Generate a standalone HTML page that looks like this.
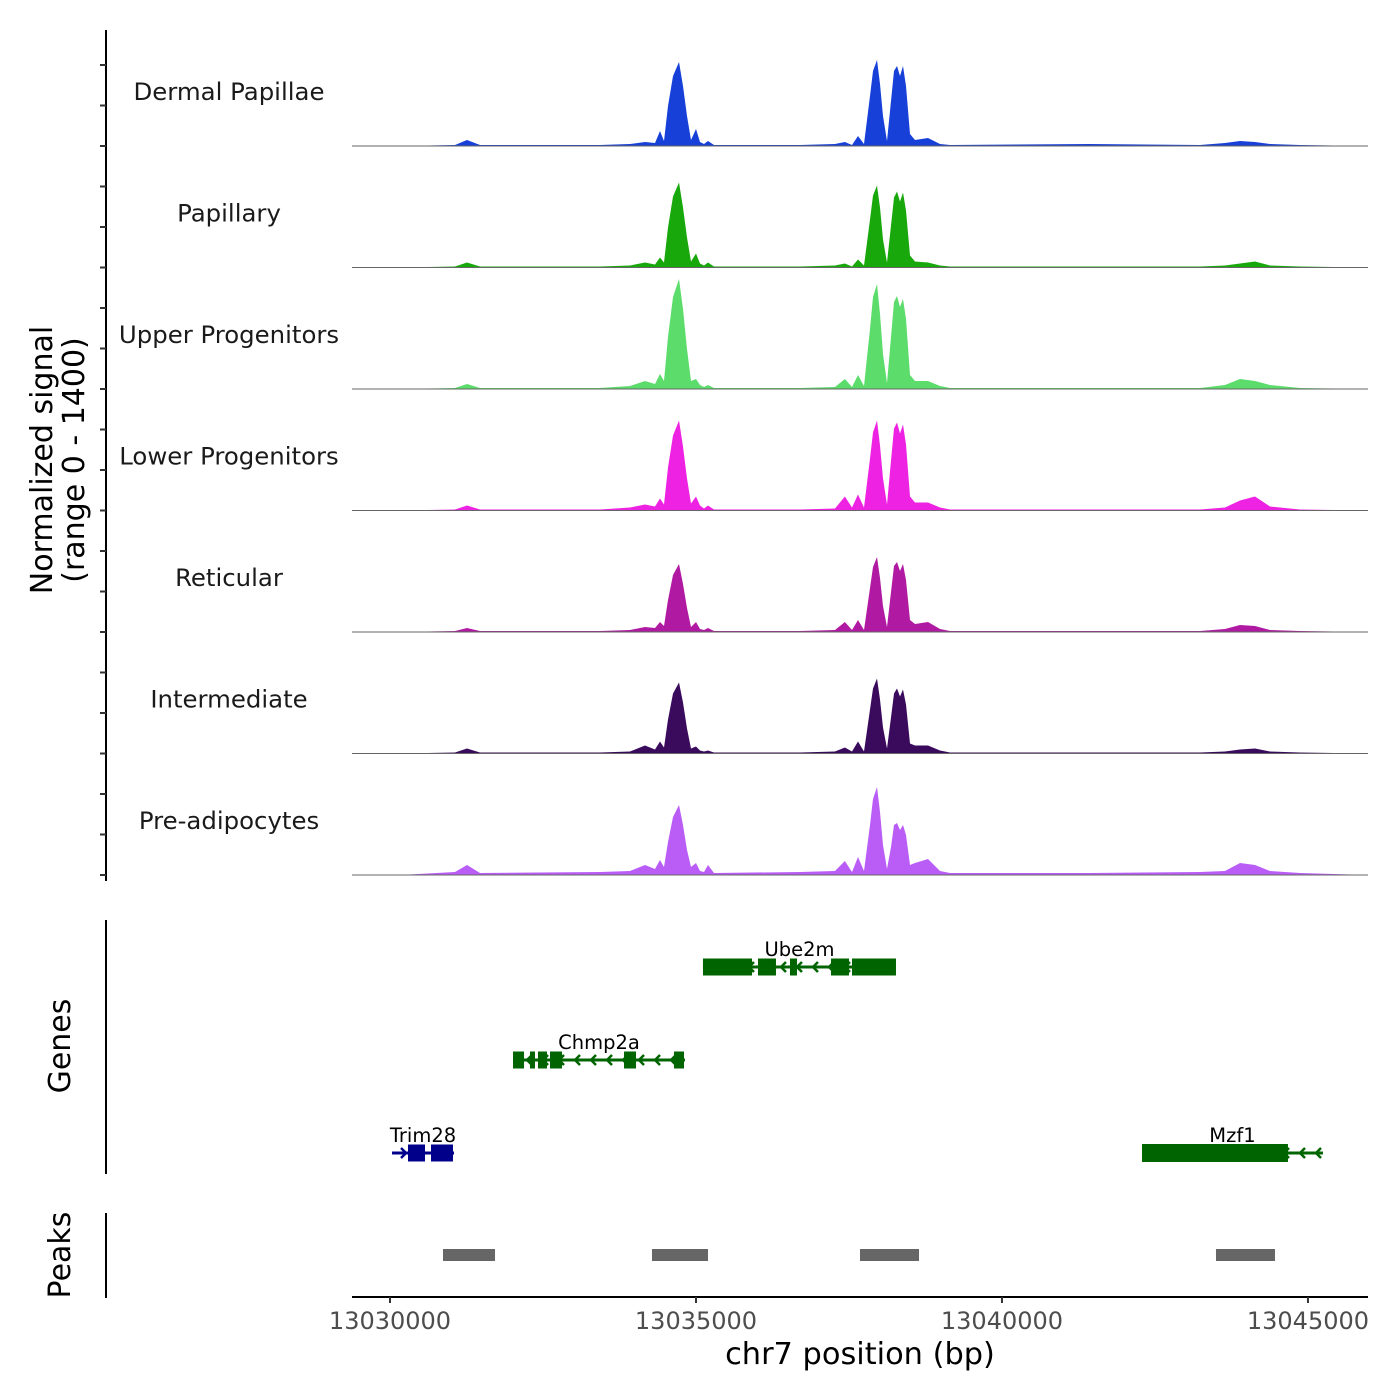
<!DOCTYPE html>
<html><head><meta charset="utf-8">
<style>
html,body{margin:0;padding:0;background:#fff;}
svg{display:block;font-family:"DejaVu Sans","Liberation Sans",sans-serif;}
</style></head>
<body>
<svg id="chart" width="1400" height="1400" viewBox="0 0 1400 1400" xmlns="http://www.w3.org/2000/svg"></svg>
<script>
const trackNames = ["Dermal Papillae","Papillary","Upper Progenitors","Lower Progenitors","Reticular","Intermediate","Pre-adipocytes"];
const trackColors = ["#1640d8","#18a80c","#5cdc6a","#ee22e2","#b01aa2","#3a0a5c","#ba5cf6"];
const positions = [13029379,13030163,13031062,13031258,13031471,13033431,13033922,13034167,13034330,13034412,13034477,13034543,13034624,13034722,13034788,13034853,13034918,13035000,13035065,13035131,13035196,13035294,13036699,13037271,13037434,13037549,13037647,13037745,13037843,13037892,13037958,13038007,13038056,13038121,13038187,13038236,13038285,13038333,13038382,13038431,13038497,13038578,13038791,13038987,13039150,13041438,13043235,13043644,13043889,13044134,13044379,13044869,13045980];
const sigDermal = [0,0,1,6,1,1,2,4,3,15,5,40,70,84,60,30,6,17,4,2,5,1,1,2,4,1,10,2,50,75,86,62,30,5,45,75,80,70,80,60,12,6,8,2,1,2,1,3,5,4,2,1,0];
const sigPapillary = [0,0,1,5,1,1,2,5,3,10,5,40,71,85,60,30,6,14,4,2,5,1,1,2,4,1,8,2,48,72,82,60,28,5,42,70,76,66,75,57,12,6,5,2,1,1,1,2,4,6,2,1,0];
const sigUpper = [0,0,1,5,1,1,3,8,5,15,8,52,92,110,80,40,8,10,4,2,4,1,1,2,10,2,14,3,60,92,105,75,35,6,52,87,93,82,90,70,14,8,8,3,1,1,1,4,10,8,4,1,0];
const sigLower = [0,0,1,5,1,1,3,6,4,12,6,43,75,90,64,32,7,14,5,2,5,1,1,2,14,3,16,3,52,78,90,65,32,6,50,82,88,77,86,66,14,8,8,3,1,1,1,3,10,14,4,1,0];
const sigReticular = [0,0,1,4,1,1,2,5,4,10,6,32,57,68,48,24,5,10,3,2,4,1,1,2,10,2,12,2,44,65,75,54,26,5,40,66,70,61,68,52,12,8,10,3,1,1,1,3,7,6,2,1,0];
const sigIntermediate = [0,0,1,5,1,1,2,8,4,12,6,34,60,71,51,25,5,7,3,2,3,1,1,2,6,2,12,2,44,65,75,54,26,5,36,60,65,57,64,49,10,8,8,3,1,1,1,2,4,5,2,1,0];
const sigPreadipo = [0,0,3,10,2,3,4,10,6,15,8,33,58,70,50,25,8,12,4,3,10,2,3,4,14,3,18,4,50,76,88,63,30,6,28,50,52,45,50,40,10,12,16,4,2,2,3,4,12,10,4,2,0];
const signals = [sigDermal,sigPapillary,sigUpper,sigLower,sigReticular,sigIntermediate,sigPreadipo];
const xTicks = [13030000,13035000,13040000,13045000];
const geneNames = ["Ube2m","Chmp2a","Trim28","Mzf1"];
const geneStarts = [13035114,13032010,13030033,13042288];
const geneEnds = [13038268,13034820,13031046,13045245];
const geneRows = [0,1,2,2];
const geneStrand = ["-","-","+","-"];
const geneExons = [
 [[13035114,13035915],[13036013,13036307],[13036536,13036650],[13037206,13037500],[13037549,13038268]],
 [[13032010,13032190],[13032288,13032369],[13032418,13032565],[13032614,13032810],[13033824,13034020],[13034641,13034804]],
 [[13030294,13030572],[13030670,13031029]],
 [[13042288,13044673]]
];
const peakStarts = [13030866,13034281,13037680,13043497];
const peakEnds = [13031716,13035196,13038644,13044461];

const svg = document.getElementById('chart');
const NS = "http://www.w3.org/2000/svg";
function mk(tag, attrs, parent){const e=document.createElementNS(NS,tag);for(const k in attrs)e.setAttribute(k,attrs[k]);(parent||svg).appendChild(e);return e;}
const xMin=13029379, xMax=13045981, pxL=352, pxR=1368;
const xs = v => pxL + (v-xMin)/(xMax-xMin)*(pxR-pxL);
const baselines = [146,267.5,389,510.5,632,753.5,875];
const yScale = (v, base) => base - v;

let e;
e = mk('line',{x1:106,y1:30,x2:106,y2:881,stroke:'#000','stroke-width':2});
 
for(let t=0;t<7;t++){
  for(let k=0;k<3;k++){
    const y = baselines[t]-k*40.5;
    e = mk('line',{x1:100,y1:y,x2:106,y2:y,stroke:'#333','stroke-width':2});
     
  }
}
e = mk('text',{x:0,y:0,'font-size':30,'text-anchor':'middle',fill:'#000',transform:'translate(52,460) rotate(-90)'});
e.textContent='Normalized signal';
 
e = mk('text',{x:0,y:0,'font-size':30,'text-anchor':'middle',fill:'#000',transform:'translate(84,460) rotate(-90)'});
e.textContent='(range 0 - 1400)';
 

for(let t=0;t<7;t++){
  const base = baselines[t];
  const vals = signals[t];
  let d = 'M'+xs(positions[0])+','+base;
  for(let i=0;i<positions.length;i++) d += ' L'+xs(positions[i]).toFixed(1)+','+yScale(vals[i],base).toFixed(1);
  d += ' L'+xs(positions[positions.length-1])+','+base+' Z';
  e = mk('path',{d:d,fill:trackColors[t],stroke:'none'});
   
  e = mk('line',{x1:pxL,y1:base,x2:pxR,y2:base,stroke:'#666','stroke-width':1});
   
  e = mk('text',{x:229,y:base-46,'font-size':24.4,'text-anchor':'middle',fill:'#1a1a1a'});
  e.textContent = trackNames[t];
   
}

e = mk('line',{x1:106,y1:920,x2:106,y2:1174,stroke:'#000','stroke-width':2});
 
e = mk('text',{x:0,y:0,'font-size':30,'text-anchor':'middle',fill:'#000',transform:'translate(70,1046) rotate(-90)'});
e.textContent='Genes';
 
const rowY = [967,1060,1153];
for(let g=0;g<geneNames.length;g++){
  const y=rowY[geneRows[g]], col = geneStrand[g]==='+'?'#00008b':'#006400';
  const x1=xs(geneStarts[g]), x2=xs(geneEnds[g]);
  const grp = mk('g',{});
   
  mk('line',{x1:x1,y1:y,x2:x2,y2:y,stroke:col,'stroke-width':3},grp);
  for(let ax=x1+14; ax<x2-6; ax+=16){
    const dir = geneStrand[g]==='+'?-1:1;
    mk('polyline',{points:(ax+dir*5)+','+(y-5)+' '+ax+','+y+' '+(ax+dir*5)+','+(y+5),fill:'none',stroke:col,'stroke-width':2.5},grp);
  }
  const h = g===3?18:17;
  for(const ex of geneExons[g]){
    mk('rect',{x:xs(ex[0]),y:y-h/2,width:Math.max(3,xs(ex[1])-xs(ex[0])),height:h,fill:col},grp);
  }
  const lbl = mk('text',{x:(x1+x2)/2,y:y-11,'font-size':19.5,'text-anchor':'middle',fill:'#000'},grp);
  lbl.textContent=geneNames[g];
}

e = mk('line',{x1:106,y1:1213,x2:106,y2:1298,stroke:'#000','stroke-width':2});
 
e = mk('text',{x:0,y:0,'font-size':30,'text-anchor':'middle',fill:'#000',transform:'translate(70,1255) rotate(-90)'});
e.textContent='Peaks';
 
for(let p=0;p<peakStarts.length;p++){
  e = mk('rect',{x:xs(peakStarts[p]),y:1249,width:xs(peakEnds[p])-xs(peakStarts[p]),height:12,fill:'#666'});
   
}

e = mk('line',{x1:pxL,y1:1297,x2:pxR,y2:1297,stroke:'#000','stroke-width':2});
 
for(const t of xTicks){
  e = mk('line',{x1:xs(t),y1:1297,x2:xs(t),y2:1303,stroke:'#333','stroke-width':2});
   
  e = mk('text',{x:xs(t),y:1329,'font-size':24,'text-anchor':'middle',fill:'#4d4d4d'});
  e.textContent=String(t);
   
}
e = mk('text',{x:860,y:1364,'font-size':30.4,'text-anchor':'middle',fill:'#000'});
e.textContent='chr7 position (bp)';
 
</script>
</body></html>
